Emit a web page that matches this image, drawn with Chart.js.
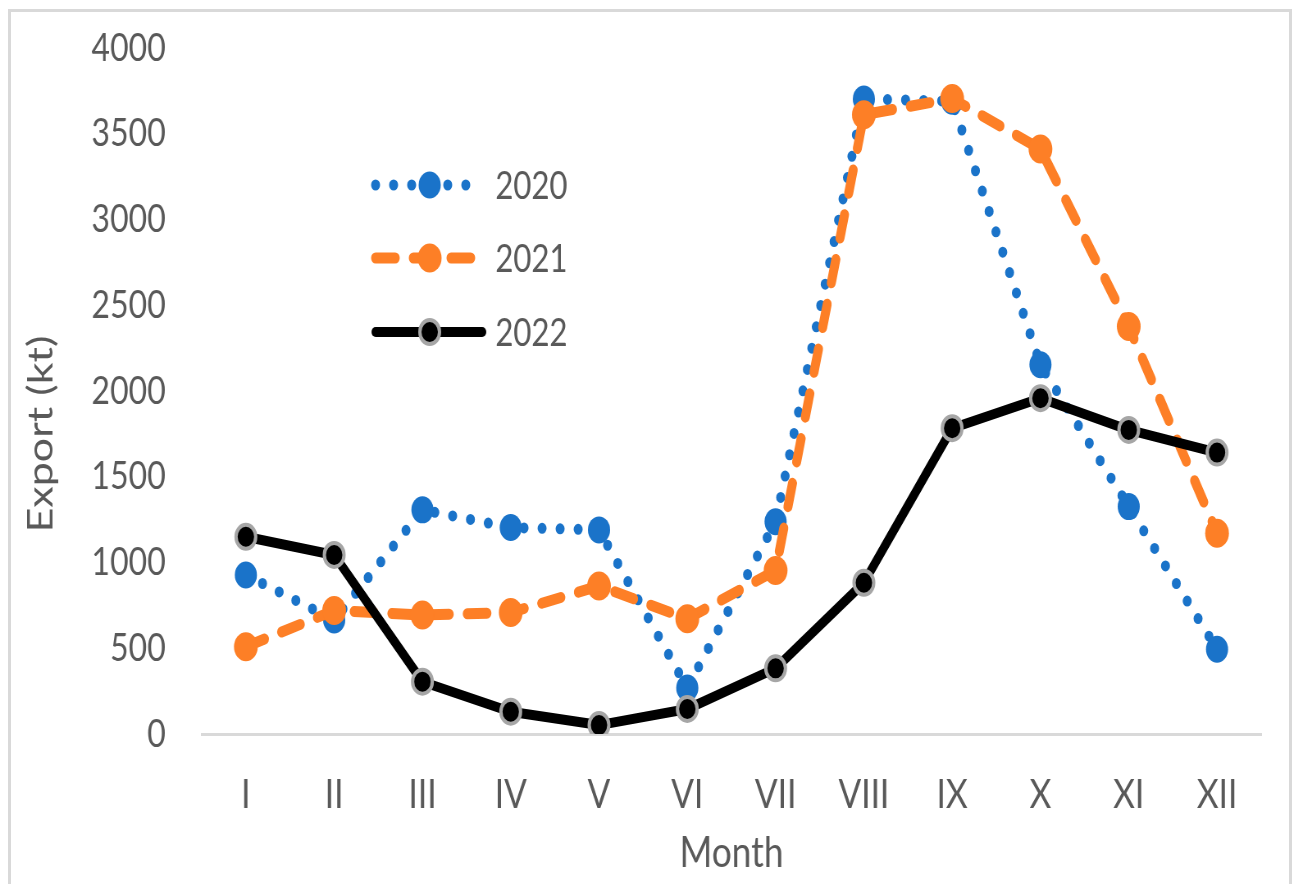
<!DOCTYPE html>
<html>
<head>
<meta charset="utf-8">
<title>Export by month</title>
<script src="https://cdn.jsdelivr.net/npm/chart.js@4.4.1/dist/chart.umd.min.js"></script>
<style>
  html, body { margin: 0; padding: 0; background: #fff; overflow: hidden; }
  #frame {
    position: absolute; left: 8px; top: 9px;
    width: 1278px; height: 900px;
    border: 3px solid #d9d9d9;
  }
  /* the original picture is squeezed sideways, so the whole chart is drawn wider and scaled */
  #wrap {
    position: absolute; left: 0; top: 0;
    width: 1576px; height: 884px;
    transform: scaleX(0.82); transform-origin: 0 0;
  }
</style>
</head>
<body>
<div id="frame"></div>
<div id="wrap"><canvas id="exportChart" width="1576" height="884"></canvas></div>
<script>
const months = ['I', 'II', 'III', 'IV', 'V', 'VI', 'VII', 'VIII', 'IX', 'X', 'XI', 'XII'];
const export2020 = [927, 665, 1307, 1204, 1190, 268, 1238, 3703, 3690, 2153, 1326, 494];
const export2021 = [509, 720, 694, 708, 863, 672, 954, 3611, 3705, 3411, 2376, 1171];
const export2022 = [1150, 1044, 305, 130, 52, 146, 383, 882, 1783, 1958, 1773, 1641];
const yMin = 0, yMax = 4000, yStep = 500;

const textColor = '#595959';

// legend drawn inside the plot, top left
const insideLegend = {
    id: 'insideLegend',
    afterDatasetsDraw(chart) {
        const ctx = chart.ctx;
        const rows = [185, 258, 332];
        chart.data.datasets.forEach((ds, i) => {
            const y = rows[i];
            ctx.save();
            ctx.strokeStyle = ds.borderColor;
            ctx.lineWidth = ds.borderWidth;
            ctx.lineCap = ds.borderCapStyle;
            ctx.setLineDash(ds.borderDash || []);
            ctx.beginPath();
            ctx.moveTo(458, y);
            ctx.lineTo(588, y);
            ctx.stroke();
            ctx.setLineDash([]);
            ctx.beginPath();
            ctx.arc(524, y, ds.pointRadius, 0, Math.PI * 2);
            ctx.fillStyle = ds.pointBackgroundColor;
            ctx.fill();
            if (ds.pointBorderWidth) {
                ctx.lineWidth = ds.pointBorderWidth;
                ctx.strokeStyle = ds.pointBorderColor;
                ctx.stroke();
            }
            ctx.fillStyle = textColor;
            ctx.font = '38px Lato';
            ctx.textAlign = 'left';
            ctx.textBaseline = 'middle';
            ctx.fillText(ds.label, 604, y + 2);
            ctx.restore();
        });
    }
};

// y axis title sits a bit below the middle of the axis in the original
const yTitle = {
    id: 'yTitle',
    afterDraw(chart) {
        const ctx = chart.ctx;
        ctx.save();
        ctx.translate(50, 434);
        ctx.rotate(-Math.PI / 2);
        ctx.fillStyle = textColor;
        ctx.font = '43px Lato';
        ctx.textAlign = 'center';
        ctx.textBaseline = 'middle';
        ctx.fillText('Export (kt)', 0, 0);
        ctx.restore();
    }
};

const ctx = document.getElementById('exportChart').getContext('2d');
new Chart(ctx, {
    type: 'line',
    data: {
        labels: months,
        datasets: [
            {
                label: '2020',
                data: export2020,
                borderColor: '#1a73c9',
                borderWidth: 11,
                borderDash: [0, 22],
                borderCapStyle: 'round',
                pointRadius: 13.5,
                pointBackgroundColor: '#1a73c9',
                pointBorderWidth: 0,
                pointBorderColor: '#1a73c9',
                tension: 0,
                order: 3
            },
            {
                label: '2021',
                data: export2021,
                borderColor: '#fd7f26',
                borderWidth: 11,
                borderDash: [24, 22],
                borderCapStyle: 'round',
                pointRadius: 14.5,
                pointBackgroundColor: '#fd7f26',
                pointBorderWidth: 0,
                pointBorderColor: '#fd7f26',
                tension: 0,
                order: 2
            },
            {
                label: '2022',
                data: export2022,
                borderColor: '#000000',
                borderWidth: 10,
                borderCapStyle: 'round',
                borderJoinStyle: 'round',
                pointRadius: 12,
                pointBackgroundColor: '#000000',
                pointBorderWidth: 4,
                pointBorderColor: '#a6a6a6',
                tension: 0,
                order: 1
            }
        ]
    },
    options: {
        responsive: false,
        animation: false,
        layout: { padding: { top: 48, right: 38, bottom: 0, left: 0 } },
        plugins: {
            legend: { display: false },
            tooltip: { enabled: false }
        },
        scales: {
            x: {
                offset: true,
                grid: { display: false, drawTicks: false },
                border: { display: true, color: '#d9d9d9', width: 3 },
                ticks: {
                    color: textColor,
                    font: { family: 'Lato', size: 41 },
                    padding: 36,
                    maxRotation: 0,
                    autoSkip: false
                },
                title: {
                    display: true,
                    text: 'Month',
                    color: textColor,
                    font: { family: 'Lato', size: 43 },
                    padding: { top: 0, bottom: 5 }
                },
                afterFit(scale) { scale.height = 150; }
            },
            y: {
                min: yMin,
                max: yMax,
                grid: { display: false, drawTicks: false },
                border: { display: false },
                ticks: {
                    stepSize: yStep,
                    color: textColor,
                    font: { family: 'Lato', size: 39 },
                    padding: 44,
                    callback: (value) => String(value)
                },
                afterFit(scale) {
                    scale.width = 246;
                    // tick padding should not push the plot top down
                    scale.paddingTop = 0;
                    scale.paddingBottom = 0;
                }
            }
        }
    },
    plugins: [insideLegend, yTitle]
});
</script>
</body>
</html>
